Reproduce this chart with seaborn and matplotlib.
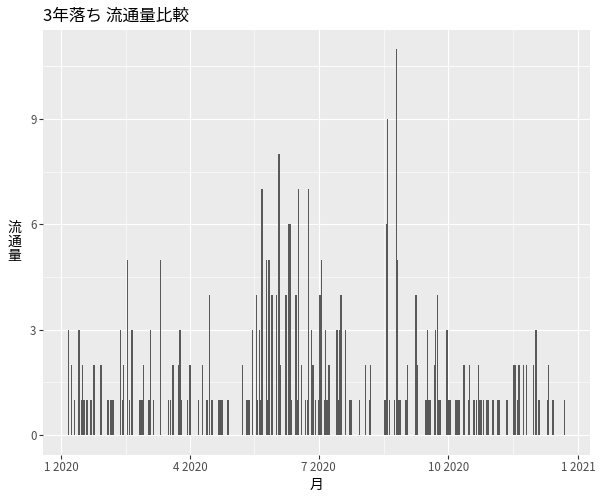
"""Daily circulation volume for 3-year-old cars, ggplot-like look."""
import matplotlib
matplotlib.use("Agg")
import matplotlib.pyplot as plt
import matplotlib.dates as mdates
import pandas as pd
import seaborn as sns

# one entry per day that had any volume
dates = [
    "2020-01-06", "2020-01-08", "2020-01-10", "2020-01-13", "2020-01-14", "2020-01-15",
    "2020-01-16", "2020-01-17", "2020-01-19", "2020-01-22", "2020-01-24", "2020-01-29",
    "2020-02-03", "2020-02-05", "2020-02-06", "2020-02-07", "2020-02-12", "2020-02-13",
    "2020-02-14", "2020-02-17", "2020-02-18", "2020-02-20", "2020-02-25", "2020-02-26",
    "2020-02-27", "2020-02-28", "2020-03-03", "2020-03-04", "2020-03-06", "2020-03-11",
    "2020-03-17", "2020-03-18", "2020-03-20", "2020-03-24", "2020-03-25", "2020-03-26",
    "2020-03-30", "2020-04-01", "2020-04-07", "2020-04-10", "2020-04-13", "2020-04-15",
    "2020-04-16", "2020-04-17", "2020-04-21", "2020-04-22", "2020-04-23", "2020-04-24",
    "2020-04-28", "2020-05-08", "2020-05-11", "2020-05-12", "2020-05-13", "2020-05-15",
    "2020-05-18", "2020-05-19", "2020-05-20", "2020-05-21", "2020-05-22", "2020-05-25",
    "2020-05-26", "2020-05-27", "2020-05-29", "2020-06-01", "2020-06-03", "2020-06-04",
    "2020-06-08", "2020-06-10", "2020-06-11", "2020-06-12", "2020-06-15", "2020-06-16",
    "2020-06-17", "2020-06-19", "2020-06-22", "2020-06-23", "2020-06-24", "2020-06-26",
    "2020-06-27", "2020-06-29", "2020-07-01", "2020-07-02", "2020-07-03", "2020-07-05",
    "2020-07-06", "2020-07-07", "2020-07-08", "2020-07-09", "2020-07-14", "2020-07-15",
    "2020-07-16", "2020-07-17", "2020-07-20", "2020-07-23", "2020-07-24", "2020-07-30",
    "2020-08-03", "2020-08-06", "2020-08-07", "2020-08-17", "2020-08-18", "2020-08-19",
    "2020-08-20", "2020-08-24", "2020-08-25", "2020-08-26", "2020-08-27", "2020-08-28",
    "2020-09-01", "2020-09-02", "2020-09-08", "2020-09-09", "2020-09-15", "2020-09-16",
    "2020-09-17", "2020-09-18", "2020-09-21", "2020-09-22", "2020-09-23", "2020-09-24",
    "2020-09-25", "2020-09-30", "2020-10-01", "2020-10-02", "2020-10-06", "2020-10-07",
    "2020-10-08", "2020-10-09", "2020-10-12", "2020-10-15", "2020-10-16", "2020-10-19",
    "2020-10-21", "2020-10-22", "2020-10-23", "2020-10-24", "2020-10-26", "2020-10-28",
    "2020-10-29", "2020-11-01", "2020-11-02", "2020-11-05", "2020-11-06", "2020-11-11",
    "2020-11-12", "2020-11-16", "2020-11-17", "2020-11-19", "2020-11-20", "2020-11-23",
    "2020-11-25", "2020-11-30", "2020-12-02", "2020-12-04", "2020-12-10", "2020-12-11",
    "2020-12-14", "2020-12-22",
]
counts = [
    3, 2, 1, 3, 3, 1,
    2, 1, 1, 1, 2, 2,
    1, 1, 1, 1, 3, 1,
    2, 5, 1, 3, 1, 1,
    1, 2, 1, 3, 1, 5,
    1, 1, 2, 2, 3, 1,
    1, 2, 1, 2, 1, 4,
    1, 1, 1, 1, 1, 1,
    1, 2, 1, 1, 1, 3,
    4, 1, 3, 1, 7, 5,
    1, 5, 4, 4, 8, 2,
    4, 6, 6, 1, 4, 1,
    7, 2, 1, 1, 7, 3,
    2, 1, 1, 4, 5, 1,
    3, 1, 2, 2, 3, 1,
    3, 4, 3, 1, 1, 1,
    2, 1, 2, 1, 6, 9,
    1, 1, 11, 5, 1, 1,
    1, 2, 4, 2, 1, 3,
    1, 1, 2, 3, 4, 1,
    1, 3, 1, 1, 1, 1,
    1, 1, 2, 1, 2, 1,
    1, 2, 1, 1, 1, 1,
    1, 1, 1, 1, 1, 1,
    1, 2, 2, 1, 2, 2,
    2, 2, 3, 1, 1, 2,
    1, 1,
]

x_breaks = ["2020-01-01", "2020-04-01", "2020-07-01", "2020-10-01", "2021-01-01"]
x_labels = ["1 2020", "4 2020", "7 2020", "10 2020", "1 2021"]
y_breaks = [0, 3, 6, 9]

TITLE = "3年落ち 流通量比較"
XLABEL = "月"
YLABEL = "流\n通\n量"

sns.set_theme(style="darkgrid", rc={
    "axes.facecolor": "#EBEBEB",
    "grid.color": "white",
    "axes.edgecolor": "#EBEBEB",
    "axes.linewidth": 0,
})
plt.rcParams["font.family"] = ["Noto Sans CJK JP", "DejaVu Sans"]

df = pd.DataFrame({"date": pd.to_datetime(dates), "count": counts})

fig, ax = plt.subplots(figsize=(6, 5), dpi=100)
fig.subplots_adjust(left=0.0717, right=0.983, top=0.941, bottom=0.091)

sns.histplot(data=df, x="date", weights="count", discrete=True, shrink=0.9,
             color="#595959", alpha=1, linewidth=0, ax=ax)

# ggplot-style 5% expansion on both axes
x_num = mdates.date2num(df["date"])
lo, hi = x_num.min() - 0.45, x_num.max() + 0.45
pad = (hi - lo) * 0.05
ax.set_xlim(lo - pad, hi + pad)
ymax = max(counts)
ax.set_ylim(-0.05 * ymax, ymax * 1.05)

brk = mdates.date2num(pd.to_datetime(x_breaks))
ax.set_xticks(brk)
ax.set_xticklabels(x_labels)
ax.set_xticks([(a + b) / 2 for a, b in zip(brk[:-1], brk[1:])], minor=True)
ax.set_yticks(y_breaks)
ax.set_yticks([v + 1.5 for v in y_breaks] + [10.5], minor=True)

ax.grid(which="major", color="white", linewidth=0.8)
ax.grid(which="minor", color="white", linewidth=0.4)
ax.tick_params(which="major", length=2.7, width=0.8, color="#333333",
               labelsize=8.3, labelcolor="#4D4D4D", pad=2,
               bottom=True, left=True)
ax.tick_params(which="minor", length=0)
for side in ax.spines.values():
    side.set_visible(False)

ax.set_title(TITLE, loc="left", fontsize=12, color="black", pad=6)
ax.set_xlabel(XLABEL, fontsize=10, color="black", labelpad=3)
ax.set_ylabel(YLABEL, fontsize=10, color="black", rotation=0,
              ha="center", va="center", linespacing=1.0)
ax.yaxis.set_label_coords(-0.053, 0.5)

plt.savefig("out.png", dpi=100)
plt.close()
